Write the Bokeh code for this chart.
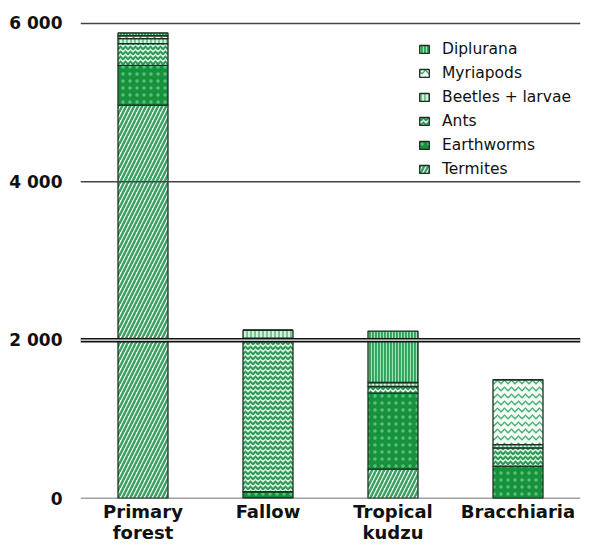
from bokeh.plotting import figure
from bokeh.models import (FactorRange, Range1d, FixedTicker, Span, Legend, LegendItem,
                          CategoricalAxis, CustomJSTickFormatter)
from bokeh.embed import file_html
from bokeh.resources import INLINE

# ---- data ----
categories = ["Primary forest", "Fallow", "Tropical kudzu", "Bracchiaria"]
label_line1 = {"Primary forest": "Primary", "Fallow": "Fallow",
               "Tropical kudzu": "Tropical", "Bracchiaria": "Bracchiaria"}
label_line2 = {"Primary forest": "forest", "Fallow": " ",
               "Tropical kudzu": "kudzu", "Bracchiaria": " "}
taxa = ["Termites", "Earthworms", "Ants", "Beetles + larvae", "Myriapods", "Diplurana"]
termites = [4970, 10, 370, 0]
earthworms = [500, 75, 960, 410]
ants = [275, 1940, 85, 230]
beetles = [65, 100, 50, 40]
myriapods = [35, 0, 0, 820]
diplurana = [35, 0, 650, 0]
y_ticks = [0, 2000, 4000, 6000]
y_tick_labels = {0: "0", 2000: "2 000", 4000: "4 000", 6000: "6 000"}

source = dict(cat=categories, Termites=termites, Earthworms=earthworms, Ants=ants)
source["Beetles + larvae"] = beetles
source["Myriapods"] = myriapods
source["Diplurana"] = diplurana

# ---- styles ----
fills = ["#f6fcf8", "#18913d", "#d6f0de", "#d8f0df", "#f3fbf5", "#2ea35a"]
hatches = ["right_diagonal_line", "dot", "horizontal_wave", "vertical_line", "horizontal_wave", "vertical_line"]
hatch_colors = ["#3aa163", "#58c27c", "#2f9a58", "#3aa865", "#48ad74", "#a4e3b9"]
hatch_scales = [8, 7, 5, 4, 7, 3]
hatch_weights = [2.5, 1, 2, 1.2, 1.3, 1.2]

p = figure(width=597, height=545, output_backend="svg", toolbar_location=None,
           x_range=FactorRange(*categories, range_padding=0),
           y_range=Range1d(0, 6164),
           min_border_left=80, min_border_right=17, min_border_top=10, min_border_bottom=40)
p.outline_line_color = None
p.xgrid.grid_line_color = None
p.ygrid.grid_line_color = None
p.background_fill_color = "white"

rs = p.vbar_stack(taxa, x="cat", width=0.4, source=source,
                  fill_color=fills, hatch_pattern=hatches, hatch_color=hatch_colors,
                  hatch_scale=hatch_scales, hatch_weight=hatch_weights,
                  line_color="#1b2e1f", line_width=1.3)

# horizontal lines
for t in y_ticks:
    if t == 2000:
        p.add_layout(Span(location=t, dimension="width", line_color="#111111", line_width=4.5))
        p.add_layout(Span(location=t, dimension="width", line_color="white", line_width=1.2))
    else:
        p.add_layout(Span(location=t, dimension="width", line_color="#444444", line_width=1.5))

# axes
p.yaxis.ticker = FixedTicker(ticks=y_ticks)
p.yaxis.major_label_overrides = y_tick_labels
p.yaxis.axis_line_color = None
p.yaxis.major_tick_line_color = None
p.yaxis.minor_tick_line_color = None
p.yaxis.major_label_text_font = "DejaVu Sans"
p.yaxis.major_label_text_font_style = "bold"
p.yaxis.major_label_text_font_size = "17px"
p.yaxis.major_label_text_color = "#111111"
p.yaxis.major_label_standoff = 12

ax2 = CategoricalAxis()
p.add_layout(ax2, "below")
for ax, labels, standoff in ((p.xaxis[0], label_line1, 2), (ax2, label_line2, -3)):
    ax.formatter = CustomJSTickFormatter(args=dict(m=labels), code="return m[tick] || ' ';")
    ax.axis_line_color = None
    ax.major_tick_line_color = None
    ax.minor_tick_line_color = None
    ax.major_tick_out = 0
    ax.major_tick_in = 0
    ax.major_label_text_font = "DejaVu Sans"
    ax.major_label_text_font_style = "bold"
    ax.major_label_text_font_size = "18px"
    ax.major_label_text_color = "#111111"
    ax.major_label_standoff = standoff

items = [LegendItem(label=name, renderers=[r]) for name, r in zip(taxa, rs)][::-1]
legend = Legend(items=items, location=(338, 319), orientation="vertical",
                border_line_color=None, background_fill_alpha=0,
                padding=0, margin=0, spacing=3, label_height=21,
                glyph_width=12, glyph_height=10, label_standoff=12,
                label_text_font="DejaVu Sans", label_text_font_size="15.5px",
                label_text_color="#111111")
p.add_layout(legend, "center")

open("out.html", "w").write(file_html(p, INLINE))
